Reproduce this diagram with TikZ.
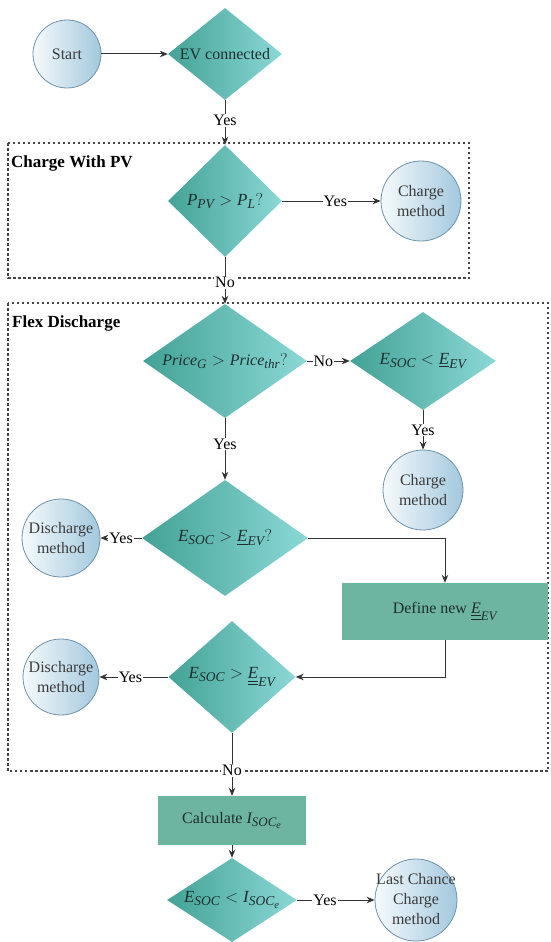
\documentclass[tikz,border=0pt]{standalone}
\usepackage{amsmath}
\usepackage{fontspec}
\setmainfont{Liberation Serif}
\DeclareMathSizes{16}{16}{13}{10}
\DeclareMathSizes{17}{17}{13.5}{10.5}
\usetikzlibrary{shapes.geometric,arrows.meta}
\definecolor{dl}{HTML}{43A295}
\definecolor{dr}{HTML}{8BD8D7}
\definecolor{cl}{HTML}{F5FAFC}
\definecolor{cr}{HTML}{A3C8DE}
\definecolor{cb}{HTML}{6E93AA}
\definecolor{ctxt}{HTML}{3C3C3C}
\definecolor{bx}{HTML}{6DB5A0}
\definecolor{ln}{HTML}{333333}
\definecolor{gr}{HTML}{444444}
\definecolor{txt}{HTML}{1E2E2E}
\begin{document}
\begin{tikzpicture}[x=1pt,y=-1pt, font=\fontsize{16}{20}\selectfont,
  dia/.style={shape=diamond, inner sep=0pt, left color=dl, right color=dr, draw=none, text=txt},
  dmath/.style={font=\fontsize{17}{20}\selectfont},
  circ/.style={circle, minimum size=#1, inner sep=0pt, left color=cl, right color=cr, draw=cb, line width=0.8pt, text=ctxt, align=center},
  boxnode/.style={rectangle, fill=bx, inner sep=0pt, text=txt},
  conn/.style={draw=ln, line width=1pt, -{Stealth[length=8pt,width=6.5pt]}},
  lab/.style={fill=white, inner sep=1pt, text=black},
  grp/.style={draw=gr, line width=1.1pt, dash pattern=on 2.5pt off 2.5pt},
  grplab/.style={font=\fontsize{17}{20}\selectfont\bfseries, anchor=west, inner sep=0pt}
]
\useasboundingbox (0,0) rectangle (550,942);
% group frames
\draw[grp] (8,143) rectangle (469,278);
\node[grplab] (g1) at (11,163) {Charge With PV};
\draw[grp] (8,303) rectangle (548,771);
\node[grplab] (g2) at (12,323) {Flex Discharge};
% nodes
\node[circ=68] (start) at (67,54) {Start};
\node[dia, minimum width=114, minimum height=92] (ev) at (225,54) {\makebox[0pt]{EV connected}};
\node[dia, dmath, minimum width=114, minimum height=112] (ppv) at (225,201) {\makebox[0pt]{$\mathit{P}_{\mathit{PV}} > \mathit{P}_{\mathit{L}}?$}};
\node[circ=80] (cm1) at (421,201) {Charge\\method};
\node[dia, minimum width=164, minimum height=114] (price) at (225,361) {\makebox[0pt]{$\mathit{Price}_{\mathit{G}} > \mathit{Price}_{\mathit{thr}}?$}};
\node[dia, dmath, minimum width=146, minimum height=98] (elow) at (423,361) {\makebox[0pt]{$\mathit{E}_{\mathit{SOC}} < \underline{\mathit{E}}_{\mathit{EV}}$}};
\node[circ=80] (cm2) at (423,490) {Charge\\method};
\node[dia, dmath, minimum width=166, minimum height=116] (ehigh) at (225,538) {\makebox[0pt]{$\mathit{E}_{\mathit{SOC}} > \underline{\mathit{E}}_{\mathit{EV}}?$}};
\node[circ=78] (dm1) at (61,538) {Discharge\\method};
\node[boxnode, minimum width=206, minimum height=57] (define) at (445,611.5) {Define new $\underline{\underline{\mathit{E}}}_{\mathit{EV}}$};
\node[dia, dmath, minimum width=127, minimum height=112] (enew) at (232,677) {\makebox[0pt]{$\mathit{E}_{\mathit{SOC}} > \underline{\underline{\mathit{E}}}_{\mathit{EV}}$}};
\node[circ=76] (dm2) at (61,677) {Discharge\\method};
\node[boxnode, minimum width=148, minimum height=49] (calc) at (232,820.5) {Calculate $\mathit{I}_{\mathit{SOC}_{\mathit{e}}}$};
\node[dia, dmath, minimum width=130, minimum height=84] (elast) at (232,900) {\makebox[0pt]{$\mathit{E}_{\mathit{SOC}} < \mathit{I}_{\mathit{SOC}_{\mathit{e}}}$}};
\node[circ=82] (lc) at (416,900) {\makebox[0pt]{\begin{tabular}{@{}c@{}}Last Chance\\Charge\\method\end{tabular}}};
% connectors
\draw[conn] (start) -- (ev);
\draw[conn] (ev) -- node[lab, pos=0.45]{Yes} (ppv);
\draw[conn] (ppv) -- node[lab, pos=0.54]{Yes} (cm1);
\draw[conn] (ppv) -- node[lab, pos=0.55]{No} (price);
\draw[conn] (price) -- node[lab, pos=0.38]{No} (elow);
\draw[conn] (elow) -- node[lab]{Yes} (cm2);
\draw[conn] (price) -- node[lab, pos=0.42]{Yes} (ehigh);
\draw[conn] (ehigh) -- node[lab]{Yes} (dm1);
\draw[conn] (ehigh.east) -| (define.north);
\draw[conn] (define.south) |- (enew.east);
\draw[conn] (enew) -- node[lab, pos=0.55]{Yes} (dm2);
\draw[conn] (enew) -- node[lab, pos=0.6]{No} (calc);
\draw[conn] (calc) -- (elast);
\draw[conn] (elast) -- node[lab, pos=0.36]{Yes} (lc);
\end{tikzpicture}
\end{document}
